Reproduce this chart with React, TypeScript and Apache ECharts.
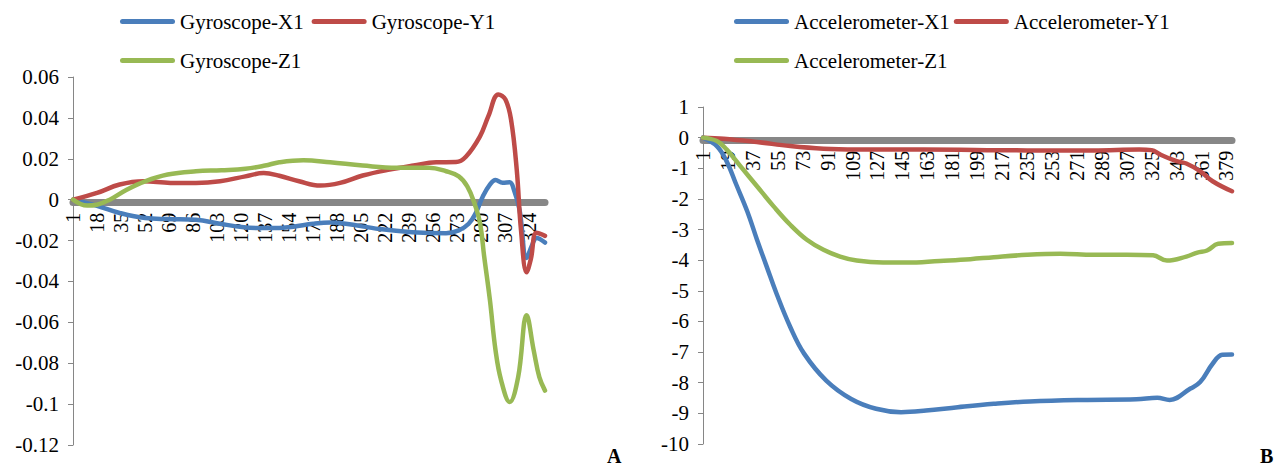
import React, { useEffect, useRef } from "react";
import * as echarts from "echarts";

// Gyroscope (left chart) — [sample, value]
const gyroX1: [number, number][] = [
  [1, 0], [18, -0.003], [34, -0.0065], [52, -0.009], [68, -0.0095], [88, -0.0098],
  [105, -0.0118], [122, -0.0135], [137, -0.0139], [147, -0.0138], [157, -0.0132],
  [171, -0.0118], [183, -0.0112], [194, -0.0118], [218, -0.0144], [241, -0.0159],
  [265, -0.0164], [274, -0.015], [281, -0.0118], [286, -0.0065], [291, 0.0016],
  [296, 0.0074], [300, 0.0096], [305, 0.0083], [310, 0.0085], [313, 0.0049],
  [317, -0.005], [322, -0.0285], [326, -0.022], [329, -0.0187], [335, -0.021],
];
const gyroY1: [number, number][] = [
  [1, 0], [18, 0.0033], [34, 0.0074], [51, 0.009], [70, 0.0082], [88, 0.0082],
  [105, 0.009], [123, 0.0114], [136, 0.013], [147, 0.0117], [161, 0.009],
  [176, 0.0069], [190, 0.0082], [206, 0.0118], [225, 0.0147], [242, 0.0167],
  [258, 0.0183], [272, 0.0184], [279, 0.021], [289, 0.031], [295, 0.041],
  [302, 0.0515], [307, 0.049], [311, 0.039], [315, 0.0147], [318, -0.0147],
  [322, -0.0355], [325, -0.029], [329, -0.0162], [335, -0.0177],
];
const gyroZ1: [number, number][] = [
  [1, 0], [11, -0.0029], [18, -0.0025], [27, 0], [39, 0.0049], [52, 0.009],
  [68, 0.0123], [88, 0.0139], [106, 0.0144], [123, 0.0151], [137, 0.0167],
  [147, 0.0183], [164, 0.0193], [183, 0.0183], [206, 0.0167], [230, 0.0156],
  [253, 0.0156], [265, 0.0139], [274, 0.0114], [280, 0.0065], [285, -0.0016],
  [289, -0.0114], [292, -0.028], [296, -0.049], [300, -0.0737], [304, -0.0885],
  [310, -0.099], [316, -0.0868], [322, -0.0565], [327, -0.0737], [331, -0.0868],
  [335, -0.0934],
];

// Accelerometer (right chart) — [sample, value]
const accelX1: [number, number][] = [
  [1, 0], [11, -0.275], [18, -0.767], [25, -1.53], [33, -2.41], [40, -3.33],
  [47, -4.21], [54, -5.08], [64, -6.18], [74, -7.05], [90, -7.93], [108, -8.53],
  [126, -8.85], [144, -8.96], [162, -8.91], [185, -8.8], [211, -8.69],
  [237, -8.61], [275, -8.56], [314, -8.54], [329, -8.49], [338, -8.56],
  [353, -8.19], [360, -7.98], [369, -7.38], [376, -7.09], [383, -7.08],
];
const accelY1: [number, number][] = [
  [1, 0], [16, -0.033], [40, -0.144], [64, -0.275], [88, -0.361], [112, -0.384],
  [160, -0.384], [235, -0.416], [283, -0.416], [316, -0.384], [325, -0.407],
  [331, -0.548], [343, -0.767], [350, -0.843], [360, -1.095], [369, -1.423],
  [383, -1.751],
];
const accelZ1: [number, number][] = [
  [1, 0], [11, -0.111], [18, -0.384], [28, -0.931], [40, -1.587], [52, -2.243],
  [64, -2.843], [76, -3.334], [88, -3.662], [100, -3.882], [112, -4.013],
  [131, -4.079], [148, -4.079], [172, -4.023], [194, -3.967], [211, -3.902],
  [235, -3.826], [259, -3.793], [283, -3.826], [307, -3.826], [326, -3.843],
  [336, -4.013], [350, -3.882], [358, -3.751], [365, -3.685], [373, -3.466],
  [383, -3.443],
];

const gyroNames = ["Gyroscope-X1", "Gyroscope-Y1", "Gyroscope-Z1"];
const accelNames = ["Accelerometer-X1", "Accelerometer-Y1", "Accelerometer-Z1"];
const panelLetters = ["A", "B"];

const leftXRange = [1, 335];
const rightXRange = [1, 383];
const leftTickStep = 17;
const rightTickStep = 18;
const leftYRange = [-0.12, 0.06, 0.02];
const rightYRange = [-10, 1, 1];

const COLORS = ["#4A7EBB", "#BE4B48", "#98B954"];
const FONT = "'Liberation Serif', 'Times New Roman', serif";
const CAPSULE =
  "path://M2.5,0 L52.5,0 A2.5,2.5 0 0 1 52.5,5 L2.5,5 A2.5,2.5 0 0 1 2.5,0 Z";

const LEFT_GRID = { left: 73, top: 77, width: 472, height: 368 };
const RIGHT_GRID = { left: 703, top: 107, width: 529, height: 337 };

// pixel offset of the zero line from the grid bottom (bar sits just below zero, as in the original)
function zeroOffset(grid: { top: number; height: number }, yr: number[]) {
  const zeroY = grid.top + grid.height * (yr[1] / (yr[1] - yr[0]));
  return -(grid.top + grid.height - zeroY) + 3;
}

export default function App() {
  const ref = useRef<HTMLDivElement>(null);

  useEffect(() => {
    if (!ref.current) return;
    const chart = echarts.init(ref.current, undefined, { renderer: "svg" });

    const legendBase = {
      icon: CAPSULE,
      itemWidth: 55,
      itemHeight: 5,
      padding: 0,
      selectedMode: false,
      textStyle: { fontFamily: FONT, fontSize: 21, color: "#000" },
    };

    const xAxisBase = (idx: number, range: number[], step: number, offset: number) => ({
      type: "value",
      gridIndex: idx,
      position: "bottom",
      offset,
      min: range[0],
      max: range[1],
      interval: step,
      axisLine: { show: true, onZero: false, lineStyle: { color: "#878787", width: 7 } },
      axisTick: { show: false },
      splitLine: { show: false },
      axisLabel: {
        rotate: 90,
        margin: 10,
        showMaxLabel: false,
        fontFamily: FONT,
        fontSize: 20,
        color: "#000",
      },
    });

    const yAxisBase = (idx: number, range: number[]) => ({
      type: "value",
      gridIndex: idx,
      min: range[0],
      max: range[1],
      interval: range[2],
      axisLine: { show: true, onZero: false, lineStyle: { color: "#868686", width: 1 } },
      axisTick: { show: true, length: 5, lineStyle: { color: "#868686" } },
      splitLine: { show: false },
      axisLabel: { margin: 14, fontFamily: FONT, fontSize: 21, color: "#000" },
    });

    const mkSeries = (name: string, data: [number, number][], color: string, idx: number) => ({
      type: "line",
      name,
      data,
      xAxisIndex: idx,
      yAxisIndex: idx,
      smooth: 0.4,
      showSymbol: false,
      symbol: "none",
      color,
      lineStyle: { color, width: 4.5, cap: "round", join: "round" },
      z: 3,
    });

    chart.setOption({
      animation: false,
      backgroundColor: "#fff",
      grid: [
        { ...LEFT_GRID, containLabel: false },
        { ...RIGHT_GRID, containLabel: false },
      ],
      legend: [
        { ...legendBase, data: [gyroNames[0], gyroNames[1]], left: 120, top: 11, itemGap: 8 },
        { ...legendBase, data: [gyroNames[2]], left: 120, top: 50 },
        { ...legendBase, data: [accelNames[0], accelNames[1]], left: 734, top: 11, itemGap: 4 },
        { ...legendBase, data: [accelNames[2]], left: 734, top: 50 },
      ],
      xAxis: [
        xAxisBase(0, leftXRange, leftTickStep, zeroOffset(LEFT_GRID, leftYRange)),
        xAxisBase(1, rightXRange, rightTickStep, zeroOffset(RIGHT_GRID, rightYRange)),
      ],
      yAxis: [yAxisBase(0, leftYRange), yAxisBase(1, rightYRange)],
      series: [
        mkSeries(gyroNames[0], gyroX1, COLORS[0], 0),
        mkSeries(gyroNames[1], gyroY1, COLORS[1], 0),
        mkSeries(gyroNames[2], gyroZ1, COLORS[2], 0),
        mkSeries(accelNames[0], accelX1, COLORS[0], 1),
        mkSeries(accelNames[1], accelY1, COLORS[1], 1),
        mkSeries(accelNames[2], accelZ1, COLORS[2], 1),
      ],
      graphic: [
        {
          type: "text",
          left: 607,
          top: 446,
          style: { text: panelLetters[0], font: `bold 20px ${FONT}`, fill: "#000" },
        },
        {
          type: "text",
          left: 1260,
          top: 446,
          style: { text: panelLetters[1], font: `bold 20px ${FONT}`, fill: "#000" },
        },
      ],
    });

    return () => chart.dispose();
  }, []);

  return (
    <div
      ref={ref}
      style={{ position: "fixed", left: 0, top: 0, width: 1282, height: 470, background: "#fff" }}
    />
  );
}
